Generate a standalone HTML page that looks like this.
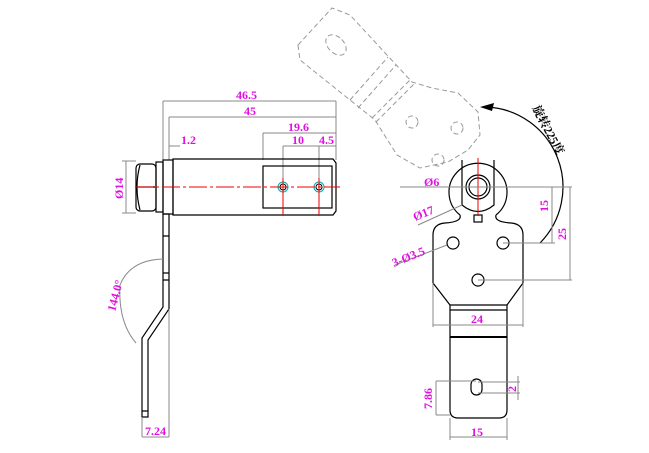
<!DOCTYPE html>
<html><head><meta charset="utf-8"><style>
body{margin:0;background:#fff}
svg{display:block}
text{font-family:"Liberation Serif","Noto Serif CJK SC",serif;font-weight:bold;fill:#e010e0;font-size:12px}
.d{stroke:#888;stroke-width:1;fill:none}
.k{stroke:#000;stroke-width:1.2;fill:none}
.r{stroke:#e00;stroke-width:1;fill:none}
.g{stroke:#999;stroke-width:1;fill:none;stroke-dasharray:5 3}
</style></head><body>
<svg width="649" height="453" viewBox="0 0 649 453">
<rect width="649" height="453" fill="#fff"/>
<path class="d" d="M163 101H336M169 117H336M263 133H336M283 146H336M163 101V165M169 117V160M336 101V160M263 133V160M283 146V215M319 146V215M169 146H180"/>
<text x="236" y="99">46.5</text>
<text x="244" y="115">45</text>
<text x="288" y="131">19.6</text>
<text x="292" y="144">10</text>
<text x="319" y="144">4.5</text>
<text x="181" y="144">1.2</text>
<path class="k" d="M173 159H333L336 163V211L333 215H173Z"/>
<rect class="k" x="263" y="166" width="69" height="42"/>
<rect class="k" x="163" y="160" width="10" height="54"/>
<rect class="k" x="156" y="162" width="7" height="50"/>
<rect class="k" x="136" y="164" width="20" height="47" rx="4"/>
<path class="k" d="M137 187H155M140 165Q134 187 140 210"/>
<circle cx="283" cy="187" r="5" stroke="#0aa" fill="none"/><circle cx="283" cy="187" r="3" stroke="#000" fill="none"/>
<circle cx="319" cy="187" r="5" stroke="#0aa" fill="none"/><circle cx="319" cy="187" r="3" stroke="#000" fill="none"/>
<path class="r" d="M135 187H340" stroke-dasharray="18 3 3 3"/>
<path class="r" d="M283 178V216M319 178V216"/>
<path class="d" d="M126 161V213M122 161H136M122 213H136"/>
<text transform="translate(123 199) rotate(-90)">Ø14</text>
<path class="k" d="M163 214V307L142 338V417H148V340L169 309V214Z"/>
<path class="k" d="M142 411H148M163 236H169M163 273H169M163 280H169"/>
<path class="d" d="M163 259Q130 260 120 285Q118 322 136 343M142 417V437M169 309V437M142 437H169"/>
<text x="145" y="435">7.24</text>
<text transform="translate(115 312) rotate(-75)">144.0°</text>
<path class="g" d="M298 45L332 8L350 15L412 82L432 88L458 93L478 112L480 135L468 150L448 162L420 168L397 155L375 120L300 60Z"/>
<path class="g" d="M350 100L388 57M358 108L396 65M372 118L410 80M376 122L414 84"/>
<ellipse class="g" cx="336" cy="45" rx="8" ry="12" transform="rotate(-45 336 45)"/>
<circle class="g" cx="412" cy="122" r="6"/><circle class="g" cx="457" cy="128" r="6"/><circle class="g" cx="438" cy="160" r="6"/>
<path class="k" d="M487 107A80 80 0 0 1 540 243" stroke-width="1"/>
<path d="M480 107L494 103L492 111Z" fill="#000"/>
<text transform="translate(532 108) rotate(62)" font-size="15" style="fill:#000">旋转225度</text>
<path class="k" d="M460 215A29 29 0 1 1 496 215" stroke-width="1"/>
<path class="k" d="M462 160V205Q478 218 494 205V160"/>
<circle class="k" cx="478" cy="187" r="12" stroke-width="1"/>
<circle class="k" cx="478" cy="187" r="9" stroke-width="1"/>
<rect class="k" x="474" y="215" width="8" height="7" stroke-width="1"/>
<path class="r" d="M478 158V216M448 187H506"/>
<path class="k" d="M460 215Q462 222 445 223Q433 224 433 235V283L450 305H507L523 283V235Q523 224 511 223Q494 222 496 215" stroke-width="1"/>
<circle class="k" cx="453" cy="243" r="6" stroke-width="1"/>
<circle class="k" cx="503" cy="243" r="6" stroke-width="1"/>
<circle class="k" cx="478" cy="280" r="6" stroke-width="1"/>
<path class="k" d="M450 305V410Q450 418 458 418H499Q507 418 507 410V305M450 310H507" stroke-width="1"/>
<path d="M450 337H507" stroke="#000" stroke-width="2"/>
<rect class="k" x="471" y="379" width="11" height="16" rx="5.5" stroke-width="1"/>
<path class="d" d="M400 187H572M503 243H555M478 280H572M552 187V243M570 187V280"/>
<text transform="translate(548 212) rotate(-90)">15</text>
<text transform="translate(566 240) rotate(-90)">25</text>
<path class="d" d="M433 283V327M523 283V327M433 325H523M450 418V440M507 418V440M450 437H507M436 381H476M436 415H450M436 381V415M478 382H520M478 393H520M518 376V400"/>
<text x="471" y="323">24</text>
<text x="471" y="436">15</text>
<text transform="translate(432 409) rotate(-90)">7.86</text>
<text transform="translate(516 392) rotate(-90)">2</text>
<path class="d" d="M418 225L462 205M395 265L447 245M425 187H448"/>
<text x="424" y="186" font-size="13">Ø6</text>
<text transform="translate(415 221) rotate(-22)" font-size="13">Ø17</text>
<text transform="translate(394 267) rotate(-22)" font-size="13">3-Ø3.5</text>
</svg>
</body></html>
